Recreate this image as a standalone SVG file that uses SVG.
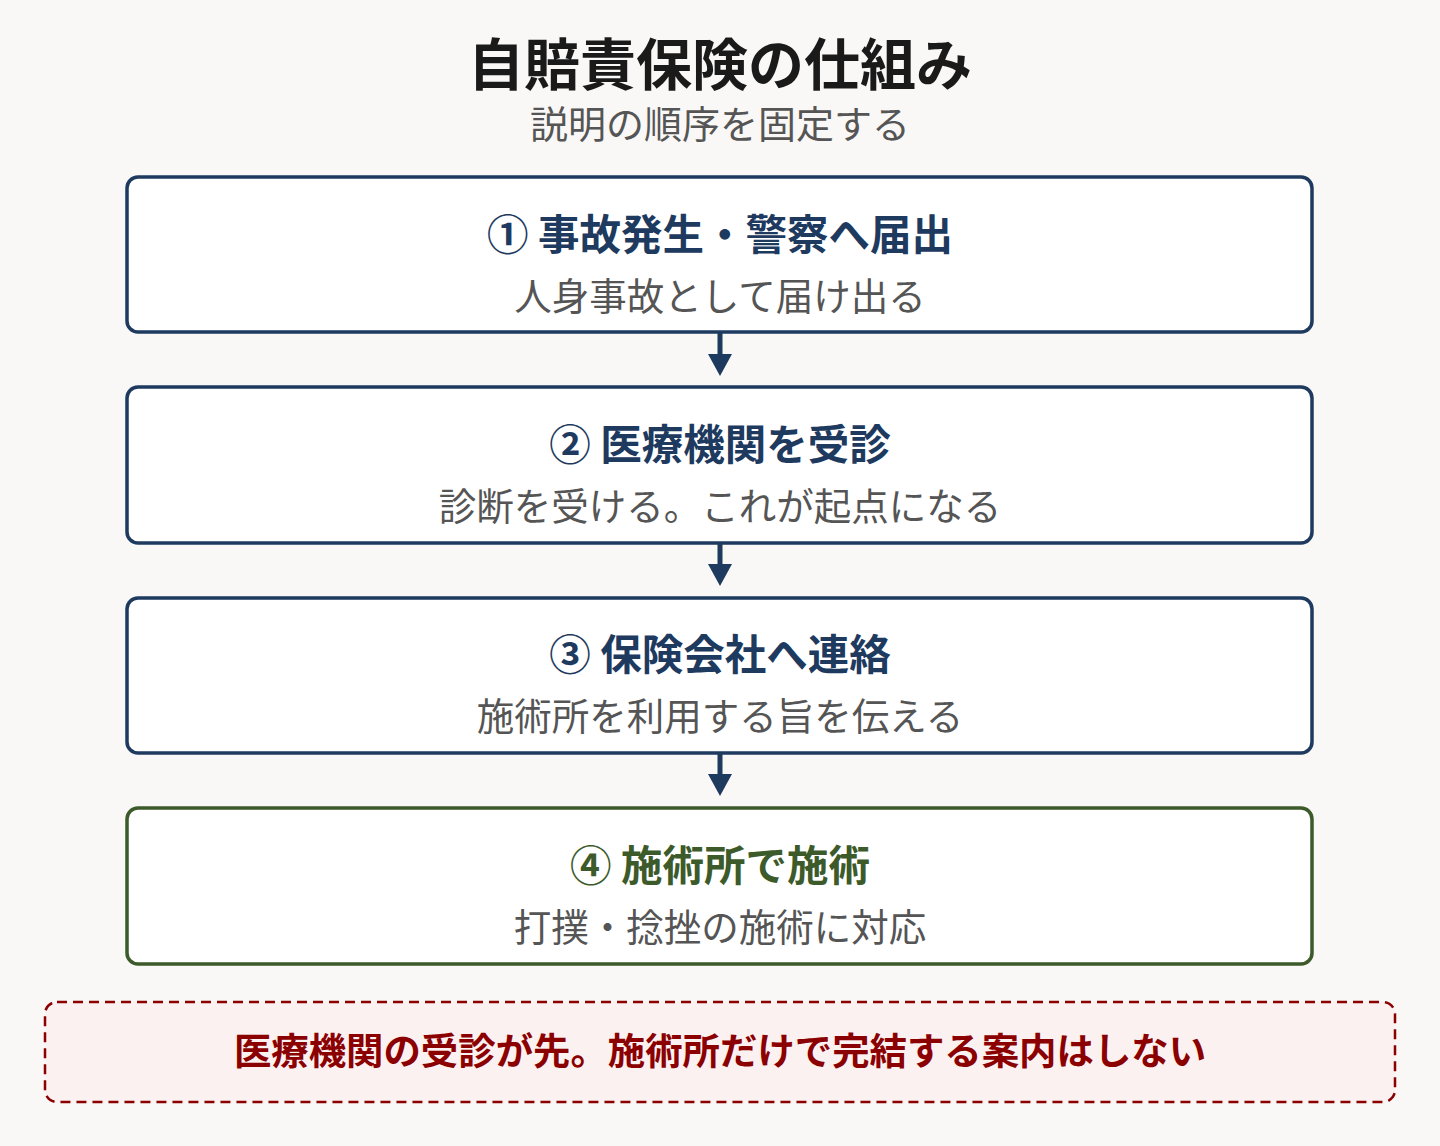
<svg xmlns="http://www.w3.org/2000/svg" width="1440" height="1146" viewBox="0 0 1440 1146">
<defs>
<style>
.t{font-family:"Noto Sans CJK JP","Noto Sans",sans-serif;text-anchor:middle}
.title{font-size:56px;font-weight:700;fill:#1a1a1a}
.sub{font-size:38px;fill:#555555}
.h{font-size:41.5px;font-weight:700;fill:#1e3a5f}
.hg{font-size:41.5px;font-weight:700;fill:#3d5a2a}
.d{font-size:37.5px;fill:#555555}
.box{fill:#ffffff;stroke:#1e3a5f;stroke-width:3.5}
.boxg{fill:#ffffff;stroke:#3d5a2a;stroke-width:3.5}
.note{fill:#fcf1f1;stroke:#8b0000;stroke-width:2.5;stroke-dasharray:10 6}
.nt{font-size:37.4px;font-weight:700;fill:#8b0000}
.con{stroke:#1e3a5f;stroke-width:5;fill:none}
.hd{fill:#1e3a5f}
</style>
</defs>
<rect width="1440" height="1146" fill="#f9f8f6"/>
<g id="header">
<text class="t title" x="720" y="85">自賠責保険の仕組み</text>
<text class="t sub" x="720" y="138">説明の順序を固定する</text>
</g>
<g id="connectors">
<line class="con" x1="720" y1="333" x2="720" y2="356"/>
<path class="hd" d="M708,354 L732,354 L720,376 Z"/>
<line class="con" x1="720" y1="544" x2="720" y2="566"/>
<path class="hd" d="M708,564 L732,564 L720,586 Z"/>
<line class="con" x1="720" y1="754" x2="720" y2="776"/>
<path class="hd" d="M708,774 L732,774 L720,796 Z"/>
</g>
<g id="step1">
<rect class="box" x="127" y="177" width="1185" height="155" rx="11"/>
<text class="t h" x="720" y="250">① 事故発生・警察へ届出</text>
<text class="t d" x="720" y="310">人身事故として届け出る</text>
</g>
<g id="step2">
<rect class="box" x="127" y="387" width="1185" height="156" rx="11"/>
<text class="t h" x="720" y="460">② 医療機関を受診</text>
<text class="t d" x="720" y="520">診断を受ける。これが起点になる</text>
</g>
<g id="step3">
<rect class="box" x="127" y="598" width="1185" height="155" rx="11"/>
<text class="t h" x="720" y="670">③ 保険会社へ連絡</text>
<text class="t d" x="720" y="730">施術所を利用する旨を伝える</text>
</g>
<g id="step4">
<rect class="boxg" x="127" y="808" width="1185" height="156" rx="11"/>
<text class="t hg" x="720" y="881">④ 施術所で施術</text>
<text class="t d" x="720" y="941">打撲・捻挫の施術に対応</text>
</g>
<g id="note">
<rect class="note" x="45" y="1002" width="1350" height="100" rx="12"/>
<text class="t nt" x="720" y="1065">医療機関の受診が先。施術所だけで完結する案内はしない</text>
</g>
</svg>
